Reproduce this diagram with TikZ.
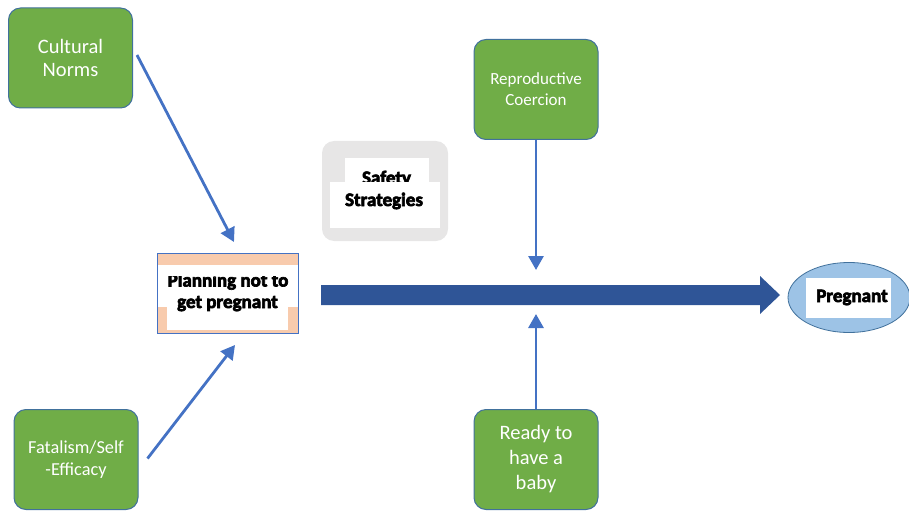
\documentclass[tikz,border=0pt]{standalone}
\usepackage{fontspec}
\setmainfont{Carlito}
\newfontfamily\heavyfont{Carlito}[BoldFeatures={FakeBold=3.5}]
\usetikzlibrary{arrows.meta,shapes.geometric}

\definecolor{leaf}{HTML}{70AD47}
\definecolor{boxedge}{HTML}{41719C}
\definecolor{linkblue}{HTML}{4472C4}
\definecolor{flowblue}{HTML}{2F5597}
\definecolor{peach}{HTML}{F8CBAD}
\definecolor{softgray}{HTML}{E7E6E6}
\definecolor{skyblue}{HTML}{9DC3E6}

\tikzset{
  greenbox/.style={draw=boxedge, fill=leaf, line width=1pt, rounded corners=12pt,
    text=white, align=center, minimum width=124pt, minimum height=100pt, inner sep=0pt},
  whitepad/.style={fill=white, draw=none, inner sep=0pt},
  heavytext/.style={font=\heavyfont\bfseries\fontsize{19}{22}\selectfont, text=black, inner sep=0pt},
  link/.style={draw=linkblue, line width=2.8pt, -{Triangle[width=15pt,length=14pt]}},
}

\begin{document}
\begin{tikzpicture}[x=1pt,y=-1pt]
\useasboundingbox (0,0) rectangle (909,513);

% influencing factors
\node[greenbox, font=\fontsize{20.5}{23}\selectfont] (cult) at (70.5,58) {Cultural\\Norms};
\node[greenbox, font=\fontsize{18.3}{22}\selectfont] (fatal) at (76,459.5) {Fatalism/Self\\-Efficacy};
\node[greenbox, font=\fontsize{17}{21}\selectfont] (repro) at (536,89.5) {Reproductive\\Coercion};
\node[greenbox, font=\fontsize{20.5}{25}\selectfont] (ready) at (536,459.5) {Ready to\\have a\\baby};

% safety strategies panel
\node[fill=softgray, rounded corners=12pt, minimum width=126pt, minimum height=100pt] (safe) at (385,191) {};
\node[whitepad, minimum width=84pt, minimum height=24pt] (safetop) at (386.5,170) {};
\node[heavytext, anchor=base] (safetxt) at (386.5,184) {Safety};
\node[whitepad, minimum width=110pt, minimum height=46pt] (safebot) at (385,205) {};
\node[heavytext, anchor=base] (strattxt) at (384,206) {Strategies};

% planning box
\node[draw=linkblue, fill=peach, line width=0.8pt, minimum width=141pt, minimum height=80pt, inner sep=0pt] (plan) at (227.5,293) {};
\node[whitepad, minimum width=140pt, minimum height=42pt] (planpad1) at (227.5,286) {};
\node[whitepad, minimum width=121pt, minimum height=38pt] (planpad2) at (227.5,311) {};
\begin{scope}
  \clip (157,276.5) rectangle (298,300);
  \node[heavytext, anchor=base] (plantxt1) at (228,286.5) {Planning not to};
\end{scope}
\node[heavytext, anchor=base] (plantxt2) at (227.5,308) {get pregnant};

% outcome
\node[ellipse, draw=boxedge, fill=skyblue, line width=0.8pt, minimum width=122pt, minimum height=70pt, inner sep=0pt] (preg) at (849,297.5) {};
\node[whitepad, minimum width=85pt, minimum height=40pt] (pregpad) at (848.5,298) {};
\node[heavytext, anchor=base] (pregtxt) at (852,302) {Pregnant};

% main flow arrow
\coordinate (flowstart) at (321,295);
\coordinate (flowend) at (780,295);
\fill[flowblue] (flowstart) ++(0,-10) -- (760,285) -- (760,276) -- (flowend) -- (760,314) -- (760,305) -- (321,305) -- cycle;

% connectors
\coordinate (cultend) at (234,242);
\coordinate (fatalend) at (235,345);
\coordinate (reproend) at (536,270);
\coordinate (readyend) at (536,314);
\draw[link] ([xshift=4pt,yshift=3pt]cult.east) -- (cultend);
\draw[link] ([xshift=9pt,yshift=1pt]fatal.east) -- (fatalend);
\draw[link] (repro.south) -- (reproend);
\draw[link] (ready.north) -- (readyend);
\end{tikzpicture}
\end{document}
